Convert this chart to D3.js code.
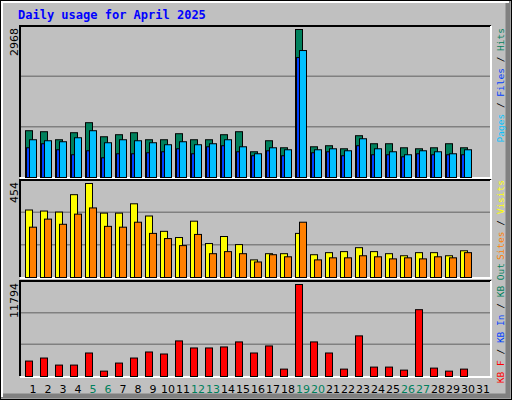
<!DOCTYPE html>
<html><head><meta charset="utf-8">
<script src="https://cdn.jsdelivr.net/npm/d3@7"></script>
<style>body{margin:0;background:#fff}</style>
</head><body>
<div id="chart"></div>
<script>
const days = d3.range(1, 32)
const weekend = [5, 6, 12, 13, 19, 20, 26, 27]
const hits  = [938,918,757,898,1099,817,858,898,757,757,878,757,757,858,918,516,737,596,2968,616,637,576,838,677,677,596,576,596,677,596]
const pages = [757,737,717,797,938,697,757,737,697,657,717,657,677,757,616,476,596,556,2546,556,576,536,777,576,516,456,536,516,476,556]
const files = [596,677,556,456,536,395,476,476,496,516,576,476,616,637,516,436,536,436,2405,496,516,436,637,456,456,415,476,456,456,456]
const visits = [326,321,316,400,454,311,311,356,297,223,193,272,164,198,159,85,115,115,213,110,120,125,144,125,115,105,120,120,105,129]
const sites  = [243,282,257,306,336,247,243,267,213,188,154,208,115,125,115,75,110,100,267,85,95,95,105,100,90,95,90,100,95,120]
const kbytes = [1980,2367,1463,1463,3013,689,1722,2367,3142,2884,4562,3658,3658,3788,4433,3013,3917,947,11794,4433,3013,947,5208,1205,1205,818,8565,1076,689,947]

const W = 512, H = 400
const svg = d3.select("#chart").append("svg").attr("width", W).attr("height", H)
    .style("font-family", "DejaVu Sans Mono")

// background + bevel
svg.append("rect").attr("x", 0).attr("y", 0).attr("width", W).attr("height", H).attr("fill", "#C0C0C0")
svg.append("path").attr("d", `M${W-4},1 V${H-4} H1`).attr("fill", "none").attr("stroke", "#808080").attr("stroke-width", 5)
svg.append("rect").attr("x", 0.5).attr("y", 0.5).attr("width", W - 1).attr("height", H - 1).attr("fill", "none").attr("stroke", "#000")
svg.append("path").attr("d", `M2,${H-3} V2 H${W-3}`).attr("fill", "none").attr("stroke", "#fff").attr("stroke-width", 2)

svg.append("text").attr("x", 18).attr("y", 19).attr("fill", "#0000FF")
    .style("font-size", "12px").style("font-weight", "bold").text("Daily usage for April 2025")

const x = d3.scaleLinear().domain([1, 31]).range([25, 475])
const left = 20, right = 491

const panels = [
  {top: 26, bottom: 177, max: 2968, label: "2968"},
  {top: 180, bottom: 277, max: 454, label: "454"},
  {top: 281, bottom: 376, max: 11794, label: "11794"}
]

panels.forEach(p => {
  p.y = d3.scaleLinear().domain([0, p.max]).range([p.bottom, p.top + 3])
  const g = svg.append("g")
  g.append("rect").attr("x", left).attr("y", p.top).attr("width", right - left).attr("height", p.bottom - p.top)
      .attr("fill", "#C0C0C0")
  const h = p.bottom - p.top
  ;[1, 2].forEach(i => g.append("line").attr("x1", left).attr("x2", right)
      .attr("y1", p.top + h * i / 3).attr("y2", p.top + h * i / 3)
      .attr("stroke", "#808080").attr("stroke-width", 1.5))
  g.append("path").attr("d", `M${left},${p.bottom} V${p.top} H${right}`).attr("fill", "none").attr("stroke", "#000").attr("stroke-width", 2)
  g.append("path").attr("d", `M${left},${p.bottom + 1} H${right} V${p.top}`).attr("fill", "none").attr("stroke", "#fff").attr("stroke-width", 2)
  g.append("text").attr("transform", `translate(18,${p.top + 2}) rotate(-90)`)
      .attr("text-anchor", "end").style("font-size", "11px").style("font-family", "DejaVu Sans").attr("fill", "#000").text(p.label)
})

function bars(panel, data, dx, w, color) {
  svg.append("g").selectAll("rect").data(data).join("rect")
      .attr("x", (d, i) => x(i + 1) + dx + 0.5)
      .attr("y", d => panel.y(d) + 0.5)
      .attr("width", w)
      .attr("height", d => panel.bottom - panel.y(d))
      .attr("fill", color).attr("stroke", "#000").attr("stroke-width", 1)
}
bars(panels[0], hits, 0, 7, "#00805C")
bars(panels[0], files, 1, 3, "#0040FF")
bars(panels[0], pages, 4, 7, "#00C0FF")
bars(panels[1], visits, 0, 7, "#FFFF00")
bars(panels[1], sites, 4, 7, "#FF8000")
bars(panels[2], kbytes, 0, 7, "#FF0000")

// day labels
svg.append("g").selectAll("text").data(days).join("text")
    .attr("x", d => x(d) + 8).attr("y", 393).attr("text-anchor", "middle")
    .style("font-size", "11px").style("font-family", "DejaVu Sans")
    .attr("fill", d => weekend.includes(d) ? "#00805C" : "#000").text(d => d)

// right-side legends (rotated, reading upwards)
function legend(parts, yEnd) {
  const t = svg.append("text").attr("transform", `translate(504,${yEnd}) rotate(-90)`)
      .attr("text-anchor", "end").style("font-size", "9.5px")
  parts.forEach(([s, c]) => t.append("tspan").attr("fill", c).text(s))
}
legend([["Pages", "#00C0FF"], [" / ", "#000"], ["Files", "#0040FF"], [" / ", "#000"], ["Hits", "#00805C"]], 28)
legend([["Sites", "#FF8000"], [" / ", "#000"], ["Visits", "#FFFF00"]], 180)
legend([["KB F", "#FF0000"], [" / ", "#000"], ["KB In", "#0040FF"], [" / ", "#000"], ["KB Out", "#00805C"]], 263)
</script>
</body></html>
